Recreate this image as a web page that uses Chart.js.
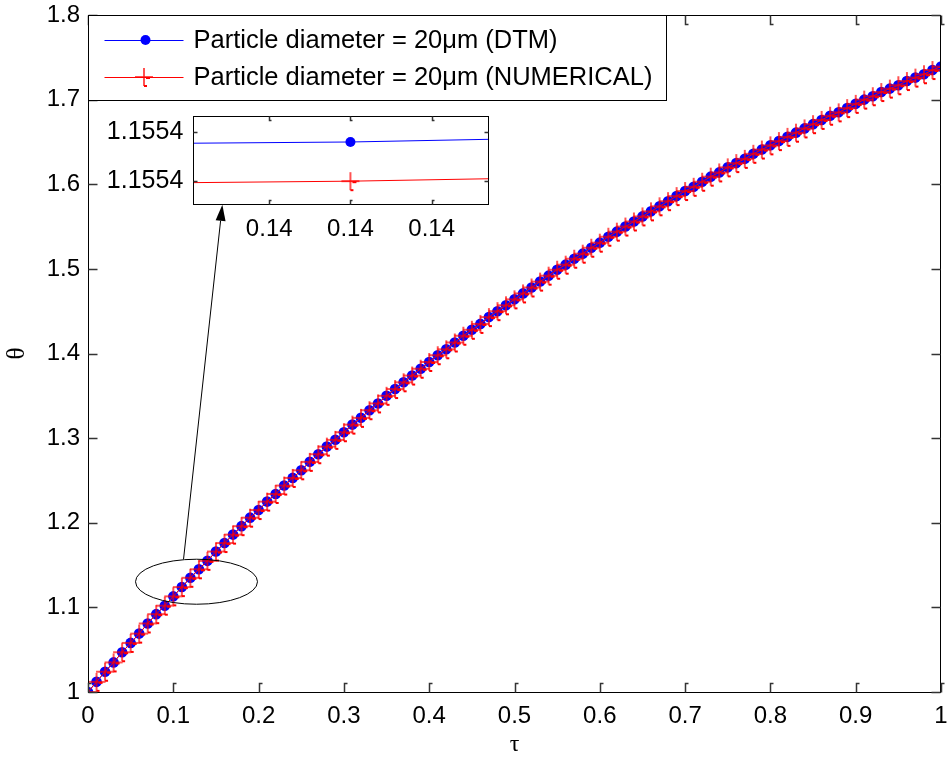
<!DOCTYPE html>
<html><head><meta charset="utf-8">
<script src="https://cdn.jsdelivr.net/npm/chart.js@4"></script>
<style>
html,body{margin:0;padding:0;background:#fff;}
#wrap{position:relative;width:947px;height:763px;overflow:hidden;}
#main{position:absolute;left:0;top:0;}
#inset{position:absolute;left:95px;top:105px;}
</style></head><body>
<div id="wrap">
<canvas id="main" width="947" height="763"></canvas>
<canvas id="inset" width="410" height="140"></canvas>
</div>
<script>
// ---------- data ----------
const tau = [0,0.01,0.02,0.03,0.04,0.05,0.06,0.07,0.08,0.09,
  0.1,0.11,0.12,0.13,0.14,0.15,0.16,0.17,0.18,0.19,
  0.2,0.21,0.22,0.23,0.24,0.25,0.26,0.27,0.28,0.29,
  0.3,0.31,0.32,0.33,0.34,0.35,0.36,0.37,0.38,0.39,
  0.4,0.41,0.42,0.43,0.44,0.45,0.46,0.47,0.48,0.49,
  0.5,0.51,0.52,0.53,0.54,0.55,0.56,0.57,0.58,0.59,
  0.6,0.61,0.62,0.63,0.64,0.65,0.66,0.67,0.68,0.69,
  0.7,0.71,0.72,0.73,0.74,0.75,0.76,0.77,0.78,0.79,
  0.8,0.81,0.82,0.83,0.84,0.85,0.86,0.87,0.88,0.89,
  0.9,0.91,0.92,0.93,0.94,0.95,0.96,0.97,0.98,0.99,1];
const thetaDTM = [1.000,1.012,1.024,1.035,1.047,1.058,1.069,1.081,1.092,1.102,
  1.113,1.124,1.135,1.145,1.155,1.166,1.176,1.186,1.196,1.206,
  1.215,1.225,1.234,1.244,1.253,1.262,1.272,1.281,1.290,1.298,
  1.307,1.316,1.324,1.333,1.341,1.350,1.358,1.366,1.374,1.382,
  1.390,1.398,1.405,1.413,1.421,1.428,1.435,1.443,1.450,1.457,
  1.464,1.471,1.478,1.485,1.492,1.499,1.505,1.512,1.518,1.525,
  1.531,1.538,1.544,1.550,1.556,1.562,1.568,1.574,1.580,1.586,
  1.592,1.597,1.603,1.609,1.614,1.620,1.625,1.630,1.636,1.641,
  1.646,1.651,1.656,1.661,1.666,1.671,1.676,1.681,1.685,1.690,
  1.695,1.700,1.704,1.709,1.713,1.717,1.722,1.726,1.730,1.735,1.739];
const thetaNumerical = [1.000,1.012,1.024,1.035,1.047,1.058,1.069,1.081,1.092,1.102,
  1.113,1.124,1.135,1.145,1.155,1.166,1.176,1.186,1.196,1.206,
  1.215,1.225,1.234,1.244,1.253,1.262,1.272,1.281,1.290,1.298,
  1.307,1.316,1.324,1.333,1.341,1.350,1.358,1.366,1.374,1.382,
  1.390,1.398,1.405,1.413,1.421,1.428,1.435,1.443,1.450,1.457,
  1.464,1.471,1.478,1.485,1.492,1.499,1.505,1.512,1.518,1.525,
  1.531,1.538,1.544,1.550,1.556,1.562,1.568,1.574,1.580,1.586,
  1.592,1.597,1.603,1.609,1.614,1.620,1.625,1.630,1.636,1.641,
  1.646,1.651,1.656,1.661,1.666,1.671,1.676,1.681,1.685,1.690,
  1.695,1.700,1.704,1.709,1.713,1.717,1.722,1.726,1.730,1.735,1.739];
const xTickValues = [0,0.1,0.2,0.3,0.4,0.5,0.6,0.7,0.8,0.9,1];
const yTickValues = [1,1.1,1.2,1.3,1.4,1.5,1.6,1.7,1.8];
const seriesLabels = ['Particle diameter = 20\u03bcm (DTM)', 'Particle diameter = 20\u03bcm (NUMERICAL)'];
const xTitle = '\u03c4';
const yTitle = '\u03b8';

// inset (zoomed view around tau = 0.14)
const insetTau = [0.1399613, 0.14, 0.1400342];
const insetDTM = [1.1554155, 1.155416, 1.1554171];
const insetNumerical = [1.1553993, 1.1553999, 1.1554009];
const insetMarkerTau = [0.14];
const insetMarkerDTM = [1.155416];
const insetMarkerNumerical = [1.1553999];
const insetXTicks = [0.13998, 0.14, 0.14002];
const insetYTicks = [1.1554, 1.15542];

// annotation (ellipse + arrow) in data coordinates
const ellipseBox = {x1: 0.0557, x2: 0.1987, y1: 1.1037, y2: 1.1569};
const arrowFrom = {x: 0.112, y: 1.157};
const arrowTo = {x: 0.1575, y: 1.5757};

// ---------- styles ----------
const SANS = '"Liberation Sans", Arial, Helvetica, sans-serif';
const SERIF = '"Liberation Serif", "Times New Roman", serif';
Chart.defaults.font.family = SANS;
Chart.defaults.color = '#000';

function makeMarker(){
  const c = document.createElement('canvas');
  c.width = 24; c.height = 24;
  const g = c.getContext('2d');
  g.strokeStyle = 'rgba(255,0,0,0.9)';
  g.lineWidth = 1.5;
  g.beginPath();
  g.moveTo(3, 12); g.lineTo(21, 12);
  g.moveTo(12, 3); g.lineTo(12, 21);
  g.stroke();
  g.fillStyle = '#ff0000';
  g.fillRect(14, 12, 4, 2);
  g.fillRect(12, 20, 3, 2);
  return c;
}
const plusMarker = makeMarker();

function drawFrame(chart, tickLen, foot){
  const {ctx, chartArea:a, scales:{x, y}} = chart;
  ctx.save();
  ctx.strokeStyle = '#000'; ctx.lineWidth = 1;
  const L = Math.round(a.left)+0.5, T = Math.round(a.top)+0.5, R = Math.round(a.right)-0.5, B = Math.round(a.bottom)+0.5;
  ctx.strokeRect(L, T, R-L, B-T);
  ctx.strokeStyle = '#333'; ctx.lineWidth = 1.5;
  ctx.beginPath();
  x.ticks.forEach(t => {
    const px = Math.round(x.getPixelForValue(t.value))+0.5;
    ctx.moveTo(px, B); ctx.lineTo(px, B - tickLen); ctx.lineTo(px + foot, B - tickLen);
    ctx.moveTo(px, T); ctx.lineTo(px, T + tickLen); ctx.lineTo(px + foot, T + tickLen);
  });
  y.ticks.forEach(t => {
    const py = Math.round(y.getPixelForValue(t.value))+0.5;
    ctx.moveTo(L, py); ctx.lineTo(L + tickLen, py);
    ctx.moveTo(R, py); ctx.lineTo(R - tickLen, py);
  });
  ctx.stroke();
  ctx.restore();
}

const mainPlugin = {
  id: 'mainDecor',
  afterDraw(chart){
    drawFrame(chart, 9, 3);
    const {ctx, chartArea:a, scales:{x, y}} = chart;
    ctx.save();
    // ellipse
    const ex1 = x.getPixelForValue(ellipseBox.x1), ex2 = x.getPixelForValue(ellipseBox.x2);
    const ey1 = y.getPixelForValue(ellipseBox.y2), ey2 = y.getPixelForValue(ellipseBox.y1);
    ctx.strokeStyle = '#000'; ctx.lineWidth = 1;
    ctx.beginPath();
    ctx.ellipse((ex1+ex2)/2, (ey1+ey2)/2, (ex2-ex1)/2, (ey2-ey1)/2, 0, 0, Math.PI*2);
    ctx.stroke();
    // arrow
    const ax = x.getPixelForValue(arrowFrom.x), ay = y.getPixelForValue(arrowFrom.y);
    const bx = x.getPixelForValue(arrowTo.x), by = y.getPixelForValue(arrowTo.y);
    const ang = Math.atan2(by-ay, bx-ax);
    const hl = 16, hw = 5;
    const baseX = bx - hl*Math.cos(ang), baseY = by - hl*Math.sin(ang);
    ctx.beginPath(); ctx.moveTo(ax, ay); ctx.lineTo(baseX, baseY); ctx.stroke();
    ctx.fillStyle = '#000';
    ctx.beginPath();
    ctx.moveTo(bx, by);
    ctx.lineTo(baseX + hw*Math.sin(ang), baseY - hw*Math.cos(ang));
    ctx.lineTo(baseX - hw*Math.sin(ang), baseY + hw*Math.cos(ang));
    ctx.closePath(); ctx.fill();
    // legend
    const lx = Math.round(a.left)+0.5, ly = Math.round(a.top)+0.5, lw = 578, lh = 85;
    ctx.fillStyle = '#fff'; ctx.fillRect(lx, ly, lw, lh);
    ctx.strokeStyle = '#000'; ctx.lineWidth = 1; ctx.strokeRect(lx, ly, lw, lh);
    const rows = [ly + 24, ly + 61];
    const colors = ['#0000ff', '#ff0000'];
    rows.forEach((ry, i) => {
      ctx.strokeStyle = colors[i]; ctx.lineWidth = 1;
      ctx.beginPath(); ctx.moveTo(lx + 16, Math.round(ry)+0.5); ctx.lineTo(lx + 95, Math.round(ry)+0.5); ctx.stroke();
      if (i === 0){
        ctx.fillStyle = '#0000ff';
        ctx.beginPath(); ctx.arc(lx + 57, ry + 0.5, 5, 0, Math.PI*2); ctx.fill();
      } else {
        ctx.drawImage(plusMarker, Math.round(lx + 55 - 12), Math.round(ry - 12));
      }
      ctx.fillStyle = '#000';
      ctx.font = '25.5px ' + SANS;
      ctx.textBaseline = 'middle'; ctx.textAlign = 'left';
      ctx.fillText(seriesLabels[i], lx + 105, ry + 1.5);
    });
    ctx.restore();
  }
};

const pts = (xs, ys) => xs.map((t, i) => ({x: t, y: ys[i]}));

new Chart(document.getElementById('main'), {
  type: 'line',
  data: { datasets: [
    { label: seriesLabels[0], data: pts(tau, thetaDTM), borderColor: '#0000ff', borderWidth: 1,
      pointRadius: 5.3, pointBackgroundColor: '#0000ff', pointBorderWidth: 0, order: 1 },
    { label: seriesLabels[1], data: pts(tau, thetaNumerical), borderColor: '#ff0000', borderWidth: 1,
      pointStyle: plusMarker, pointRadius: 5, order: 0 }
  ]},
  options: {
    responsive: false, animation: false, devicePixelRatio: 1,
    layout: { padding: { top: 15, right: 1, left: 0, bottom: 0 } },
    plugins: { legend: { display: false }, tooltip: { enabled: false } },
    scales: {
      x: { type: 'linear', min: 0, max: 1,
        afterBuildTicks: s => { s.ticks = xTickValues.map(v => ({value: v})); },
        afterFit: s => { s.height = 71; s.paddingLeft = 0; s.paddingRight = 0; },
        grid: { display: false, drawTicks: false }, border: { display: false },
        ticks: { padding: 10, font: { size: 24 }, maxRotation: 0, autoSkip: false, callback: v => String(v) },
        title: { display: true, text: xTitle, font: { family: SERIF, size: 24 }, padding: { top: 0, bottom: 4 } } },
      y: { type: 'linear', min: 1, max: 1.8,
        afterBuildTicks: s => { s.ticks = yTickValues.map(v => ({value: v})); },
        afterFit: s => { s.width = 88; s.paddingTop = 0; s.paddingBottom = 0; },
        grid: { display: false, drawTicks: false }, border: { display: false },
        ticks: { padding: 8, font: { size: 24 }, autoSkip: false, callback: v => String(v) },
        title: { display: true, text: yTitle, font: { family: SERIF, size: 25 }, padding: { top: 2, bottom: 0 } } }
    }
  },
  plugins: [mainPlugin]
});

const insetPlugin = {
  id: 'insetDecor',
  beforeDatasetsDraw(chart){
    const {ctx, chartArea:a} = chart;
    ctx.save(); ctx.fillStyle = '#fff';
    ctx.fillRect(a.left, a.top, a.right-a.left, a.bottom-a.top);
    ctx.restore();
  },
  afterDraw(chart){ drawFrame(chart, 4, 2); }
};

new Chart(document.getElementById('inset'), {
  type: 'line',
  data: { datasets: [
    { data: pts(insetTau, insetDTM), borderColor: '#0000ff', borderWidth: 1, pointRadius: 0, order: 3 },
    { data: pts(insetMarkerTau, insetMarkerDTM), showLine: false, pointRadius: 5,
      pointBackgroundColor: '#0000ff', pointBorderWidth: 0, order: 2 },
    { data: pts(insetTau, insetNumerical), borderColor: '#ff0000', borderWidth: 1, pointRadius: 0, order: 1 },
    { data: pts(insetMarkerTau, insetMarkerNumerical), showLine: false, pointStyle: plusMarker, pointRadius: 5, order: 0 }
  ]},
  options: {
    responsive: false, animation: false, devicePixelRatio: 1,
    layout: { padding: { top: 10.7, right: 15.7, left: 0, bottom: 0 } },
    plugins: { legend: { display: false }, tooltip: { enabled: false } },
    scales: {
      x: { type: 'linear', min: insetTau[0], max: insetTau[2],
        afterBuildTicks: s => { s.ticks = insetXTicks.map(v => ({value: v})); },
        afterFit: s => { s.height = 40.7; s.paddingLeft = 0; s.paddingRight = 0; },
        grid: { display: false, drawTicks: false }, border: { display: false },
        ticks: { padding: 11, font: { size: 24 }, maxRotation: 0, autoSkip: false, callback: v => Number(v).toFixed(2) } },
      y: { type: 'linear', min: 1.1553904, max: 1.1554268,
        afterBuildTicks: s => { s.ticks = insetYTicks.map(v => ({value: v})); },
        afterFit: s => { s.width = 98.3; s.paddingTop = 0; s.paddingBottom = 0; },
        grid: { display: false, drawTicks: false }, border: { display: false },
        ticks: { padding: 10, font: { size: 25 }, autoSkip: false, callback: v => Number(v).toFixed(4) } }
    }
  },
  plugins: [insetPlugin]
});
</script>
</body></html>
